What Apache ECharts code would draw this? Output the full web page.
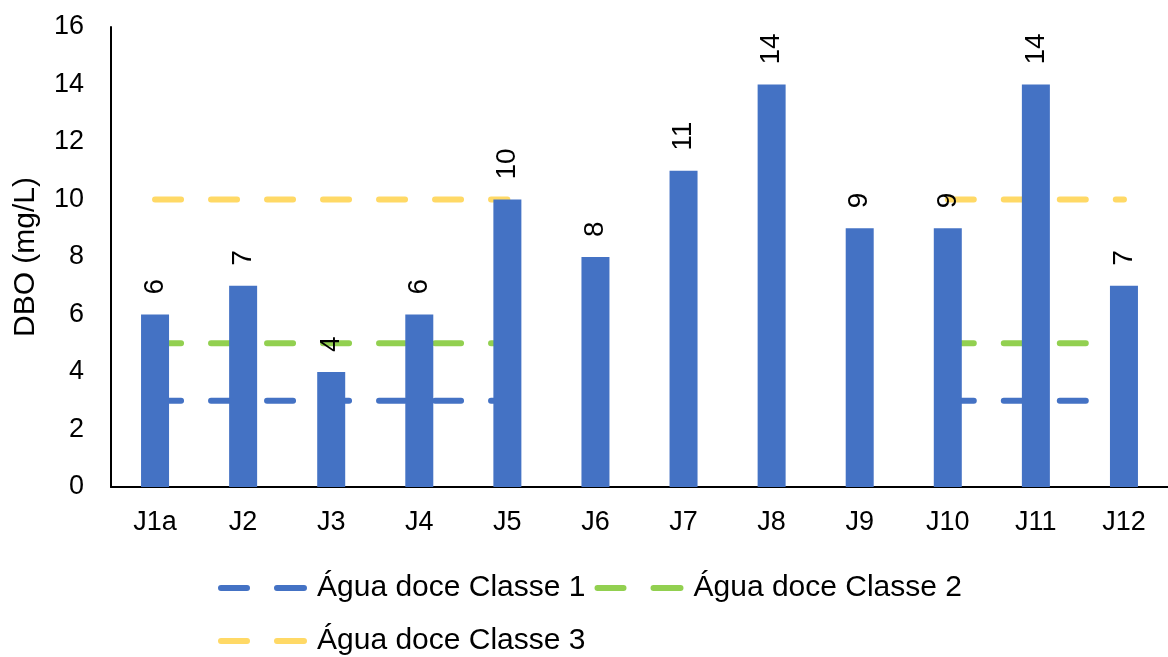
<!DOCTYPE html>
<html>
<head>
<meta charset="utf-8">
<title>DBO</title>
<script src="https://cdn.jsdelivr.net/npm/echarts@6/dist/echarts.min.js"></script>
<style>
  html, body { margin: 0; padding: 0; background: #fff; }
  #chart { width: 1168px; height: 657px; }
</style>
</head>
<body>
<div id="chart"></div>
<script>
// dados
const pontos = ['J1a', 'J2', 'J3', 'J4', 'J5', 'J6', 'J7', 'J8', 'J9', 'J10', 'J11', 'J12'];
const dbo = [6, 7, 4, 6, 10, 8, 11, 14, 9, 9, 14, 7];
const classe1 = [3, 3, 3, 3, 3, null, null, null, null, 3, 3, 3];
const classe2 = [5, 5, 5, 5, 5, null, null, null, null, 5, 5, 5];
const classe3 = [10, 10, 10, 10, 10, null, null, null, null, 10, 10, 10];
const nomes = ['Água doce Classe 1', 'Água doce Classe 2', 'Água doce Classe 3'];

const fonte = 'Liberation Sans, Arial, sans-serif';

const chart = echarts.init(document.getElementById('chart'));

// linha tracejada de limite
const limite = (nome, dados, cor) => ({
  name: nome,
  type: 'line',
  data: dados,
  symbol: 'none',
  connectNulls: false,
  z: 1,
  lineStyle: { color: cor, width: 6, type: [26, 30], cap: 'round' },
  itemStyle: { color: cor },
  silent: true
});

// ícone da legenda: dois traços arredondados
const iconeTraco = 'path://M3,0 H29 A3,3 0 0 1 29,6 H3 A3,3 0 0 1 3,0 Z M59,0 H86 A3,3 0 0 1 86,6 H59 A3,3 0 0 1 59,0 Z';

const legendaBase = {
  left: 218,
  padding: 0,
  orient: 'horizontal',
  icon: iconeTraco,
  itemWidth: 89,
  itemHeight: 6,
  itemGap: 9,
  textStyle: { fontFamily: fonte, fontSize: 30, color: '#000', lineHeight: 30, padding: [0, 0, 0, 5] }
};

const option = {
  animation: false,
  grid: { left: 111, top: 27, width: 1065, height: 460 },
  legend: [
    Object.assign({}, legendaBase, { top: 573, data: [nomes[0], nomes[1]] }),
    Object.assign({}, legendaBase, { top: 626, data: [nomes[2]] })
  ],
  xAxis: {
    type: 'category',
    data: pontos,
    axisLine: { lineStyle: { color: '#000', width: 2 } },
    axisTick: { show: false },
    axisLabel: { fontFamily: fonte, fontSize: 27, color: '#000', margin: 22 }
  },
  yAxis: {
    type: 'value',
    min: 0,
    max: 16,
    interval: 2,
    name: 'DBO (mg/L)',
    nameLocation: 'middle',
    nameRotate: 90,
    nameGap: 70,
    nameTextStyle: { fontFamily: fonte, fontSize: 30, color: '#000' },
    splitLine: { show: false },
    axisLine: { show: true, lineStyle: { color: '#000', width: 2 } },
    axisTick: { show: false },
    axisLabel: { fontFamily: fonte, fontSize: 27, color: '#000', margin: 27 }
  },
  series: [
    limite(nomes[0], classe1, '#4472C4'),
    limite(nomes[1], classe2, '#92D050'),
    limite(nomes[2], classe3, '#FFD966'),
    {
      name: 'DBO',
      type: 'bar',
      data: dbo,
      barWidth: 28,
      z: 3,
      itemStyle: { color: '#4472C4' },
      label: {
        show: true,
        position: 'top',
        rotate: 90,
        align: 'left',
        verticalAlign: 'middle',
        distance: 20,
        fontFamily: fonte,
        fontSize: 28,
        color: '#000'
      }
    }
  ]
};

chart.setOption(option);
</script>
</body>
</html>
